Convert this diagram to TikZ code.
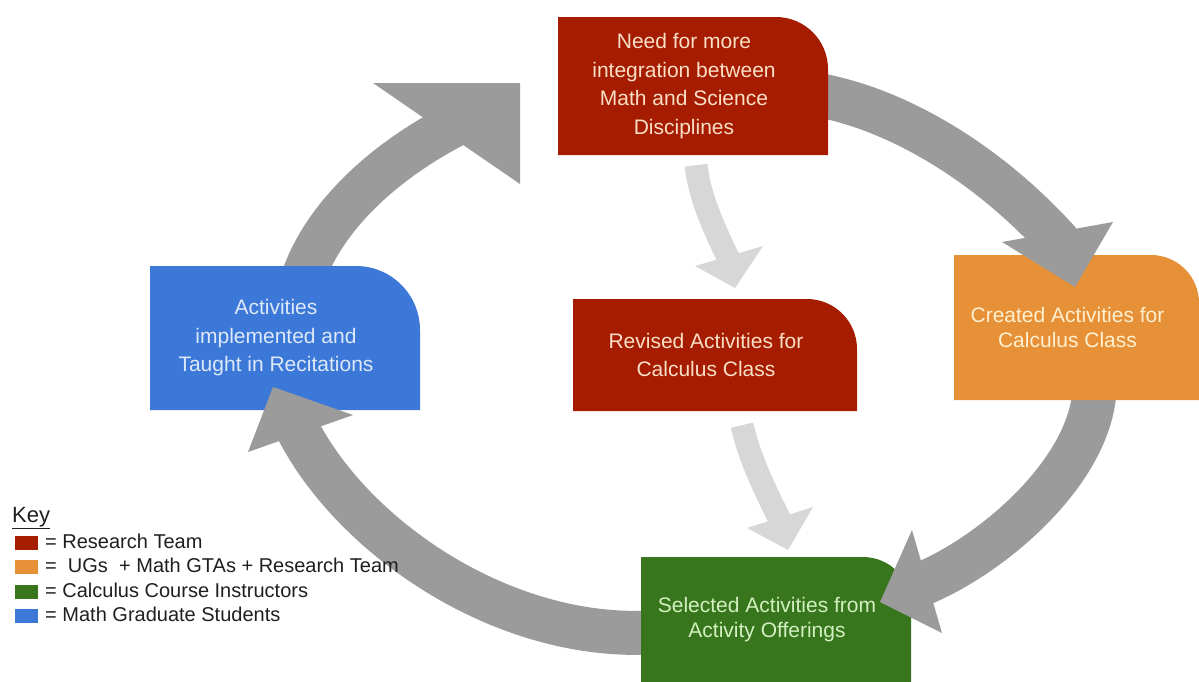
\documentclass[tikz,border=0pt]{standalone}
\usepackage{fontspec}
\setmainfont{Liberation Sans}
\usetikzlibrary{calc,backgrounds}

\definecolor{rouge}{HTML}{A51C00}
\definecolor{orangec}{HTML}{E69138}
\definecolor{vert}{HTML}{38761D}
\definecolor{bleu}{HTML}{3C78D8}
\definecolor{gris}{HTML}{9B9B9B}
\definecolor{grisclair}{HTML}{D7D7D7}
\definecolor{texterouge}{HTML}{F9DFC6}
\definecolor{texteorange}{HTML}{FFF0D0}
\definecolor{textevert}{HTML}{D2F0C0}
\definecolor{textebleu}{HTML}{DDE9F8}

\begin{document}
\begin{tikzpicture}[x=1pt, y=-1pt,
    boite/.style n args={4}{minimum width=#2, minimum height=#3, inner sep=0pt, align=center,
      font=\fontsize{21}{28.5}\selectfont,
      path picture={\fill[#1] ($(path picture bounding box.south west)+(18pt,0pt)$)
        |- ($(path picture bounding box.north east)+(-#4,0pt)$)
        arc[start angle=90, end angle=0, radius=#4]
        -- (path picture bounding box.south east) -- cycle;}},
    grosse/.style={draw=gris, line width=44pt},
    fine/.style={draw=grisclair, line width=23pt},
    carre/.style={fill=#1, minimum width=23pt, minimum height=14pt, inner sep=0pt},
    legende/.style={inner sep=0pt, text=black!88, font=\fontsize{20}{20}\selectfont}]
  \useasboundingbox (0,0) rectangle (1199,681);
  % Boites
  \node[boite={rouge}{288pt}{138pt}{52pt}, text=texterouge] (besoin) at (684,86)
    {Need for more\\integration between\\Math and Science\\Disciplines};
  \node[boite={rouge}{302pt}{112pt}{50pt}, text=texterouge] (revise) at (706,355)
    {Revised Activities for\\Calculus Class};
  \node[boite={orangec}{263pt}{145pt}{48pt}, text=texteorange,
    font=\fontsize{21}{24.5}\selectfont] (cree) at (1067.5,327.5)
    {Created Activities for\\Calculus Class};
  \node[boite={bleu}{288pt}{144pt}{64pt}, text=textebleu] (enseigne) at (276,338)
    {Activities\\implemented and\\Taught in Recitations};
  \node[boite={vert}{288pt}{125pt}{48pt}, text=textevert,
    font=\fontsize{21}{25}\selectfont] (choisi) at (767,619.5)
    {Selected Activities from\\Activity Offerings};
  % Fleches
  \begin{scope}[on background layer]
    \draw[grosse] ($(besoin.east)+(-10,9)$) .. controls (900,110) and (990,165) .. (1060,243);
    \draw[grosse] ($(cree.south)+(27,-10)$) .. controls (1090,470) and (996,553) .. (922,584);
    \draw[grosse] ($(choisi.west)+(28,13)$) .. controls (500,640) and (350,535) .. (296,426);
    \draw[grosse] ($(enseigne.north)+(27,12)$) .. controls (325,215) and (385,160) .. (460,122);
  \end{scope}
  \fill[gris] (1002,242) -- (1075,287) -- (1113,222) -- cycle;
  \fill[gris] (912,530) -- (880,602) -- (942,633) -- cycle;
  \fill[gris] (248,452) -- (273,387) -- (353,415) -- cycle;
  \fill[gris] (373,83) -- (520,83) -- (520,184) -- cycle;
  \draw[fine] ($(besoin.south)+(12,10)$) .. controls (700,200) and (716,232) .. (730,262);
  \fill[grisclair] (695,266) -- (735,288) -- (763,246) -- cycle;
  \draw[fine] ($(revise.south)+(36,14)$) .. controls (750,460) and (766,492) .. (782,524);
  \fill[grisclair] (747,528) -- (788,550) -- (813,507) -- cycle;
  % Legende
  \node[legende, anchor=base west, font=\fontsize{22}{22}\selectfont] (cle) at (12,522) {\underline{Key}};
  \foreach \c/\t [count=\i] in {rouge/{= Research Team},
      orangec/{=\ \ UGs\ \ + Math GTAs + Research Team},
      vert/{= Calculus Course Instructors}, bleu/{= Math Graduate Students}} {
    \node[carre=\c] (carre\i) at (26.5,{518+24.5*\i}) {};
    \node[legende, anchor=base west] (leg\i) at (45,{523.5+24.5*\i}) {\t};
  }
\end{tikzpicture}
\end{document}
